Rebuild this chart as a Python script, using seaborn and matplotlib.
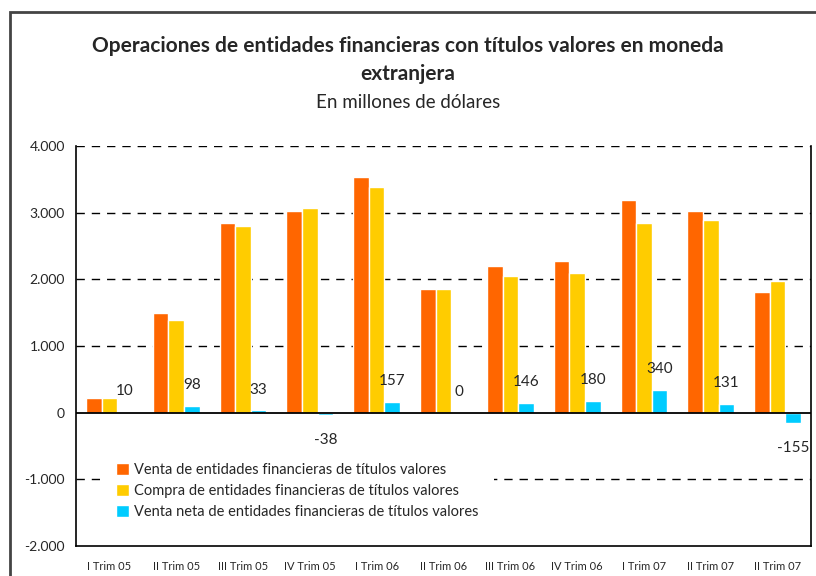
import pandas as pd
import matplotlib
matplotlib.use("Agg")
import matplotlib.pyplot as plt
import seaborn as sns
from matplotlib.patches import Rectangle

# data (millones de dólares)
trimestres = ["I Trim 05", "II Trim 05", "III Trim 05", "IV Trim 05", "I Trim 06",
              "II Trim 06", "III Trim 06", "IV Trim 06", "I Trim 07", "II Trim 07", "II Trim 07"]
venta = [225, 1490, 2840, 3025, 3535, 1850, 2200, 2280, 3190, 3025, 1815]
compra = [215, 1392, 2807, 3063, 3378, 1850, 2054, 2100, 2850, 2894, 1970]
neta = [10, 98, 33, -38, 157, 0, 146, 180, 340, 131, -155]

series = ["Venta de entidades financieras de títulos valores",
          "Compra de entidades financieras de títulos valores",
          "Venta neta de entidades financieras de títulos valores"]
colores = ["#FF6600", "#FFCC00", "#00CCFF"]

yticks = [-2000, -1000, 0, 1000, 2000, 3000, 4000]
ytick_labels = ["-2.000", "-1.000", "0", "1.000", "2.000", "3.000", "4.000"]

# long format table for seaborn (index keeps the repeated label apart)
rows = []
for i in range(len(trimestres)):
    for s, vals in zip(series, [venta, compra, neta]):
        rows.append({"pos": i, "serie": s, "valor": vals[i]})
df = pd.DataFrame(rows)

sns.set_style("white")
plt.rcParams["font.family"] = ["Lato", "DejaVu Sans"]

fig = plt.figure(figsize=(8.16, 5.76), dpi=100)
ax = fig.add_axes([76 / 816, 1 - 546 / 576, 735 / 816, 400 / 576])

sns.barplot(data=df, x="pos", y="valor", hue="serie", hue_order=series,
            palette=colores, saturation=1, width=0.7, gap=0, ax=ax,
            errorbar=None, zorder=3)

ax.set_ylim(-2000, 4000)
ax.set_xlim(-0.5, len(trimestres) - 0.5)
ax.set_yticks(yticks)
ax.set_yticklabels(ytick_labels, fontsize=10)
ax.set_xticks(range(len(trimestres)))
ax.set_xticklabels(trimestres, fontsize=8)
ax.tick_params(axis="x", length=0, pad=11)
ax.tick_params(axis="y", length=0, pad=8)
ax.set_xlabel("")
ax.set_ylabel("")

for y in [-1000, 1000, 2000, 3000, 4000]:
    ax.axhline(y, color="black", lw=1, linestyle=(0, (6, 5)), zorder=1)
ax.axhline(0, color="black", lw=1.3, zorder=4)

ax.spines["top"].set_visible(False)
for side in ["left", "right", "bottom"]:
    ax.spines[side].set_color("black")
    ax.spines[side].set_linewidth(1.2)

# net sale labels
for p, v in zip(ax.containers[2], neta):
    xc = p.get_x() + p.get_width() / 2
    off = -18 if v < 0 else 15
    ax.annotate(str(v), (xc, v), xytext=(0, off), textcoords="offset points",
                ha="center", va="center", fontsize=11, zorder=5)

leg = ax.legend(loc="upper left", bbox_to_anchor=(0.045, 0.225), fontsize=10.5,
                frameon=True, facecolor="white", edgecolor="none", framealpha=1,
                handlelength=0.9, handleheight=0.9, handletextpad=0.3,
                labelspacing=0.45, borderpad=0.5, borderaxespad=0)
leg.set_zorder(6)
# wider white box behind the legend, like the original
leg._legend_box.set_offset
fr = leg.get_frame()
fr.set_boxstyle("square", pad=0.6)

fig.text(0.5, 1 - 46 / 576, "Operaciones de entidades financieras con títulos valores en moneda",
         ha="center", va="center", fontsize=15, fontweight="bold")
fig.text(0.5, 1 - 74 / 576, "extranjera", ha="center", va="center",
         fontsize=15, fontweight="bold")
fig.text(0.5, 1 - 102 / 576, "En millones de dólares", ha="center", va="center", fontsize=13.5)

# outer frame of the chart
fig.patches.append(Rectangle((10 / 816, -0.1), 1.0, 1.1 - 12 / 576,
                             transform=fig.transFigure, fill=False,
                             edgecolor="#444444", lw=2))

fig.savefig("out.png", dpi=100)
